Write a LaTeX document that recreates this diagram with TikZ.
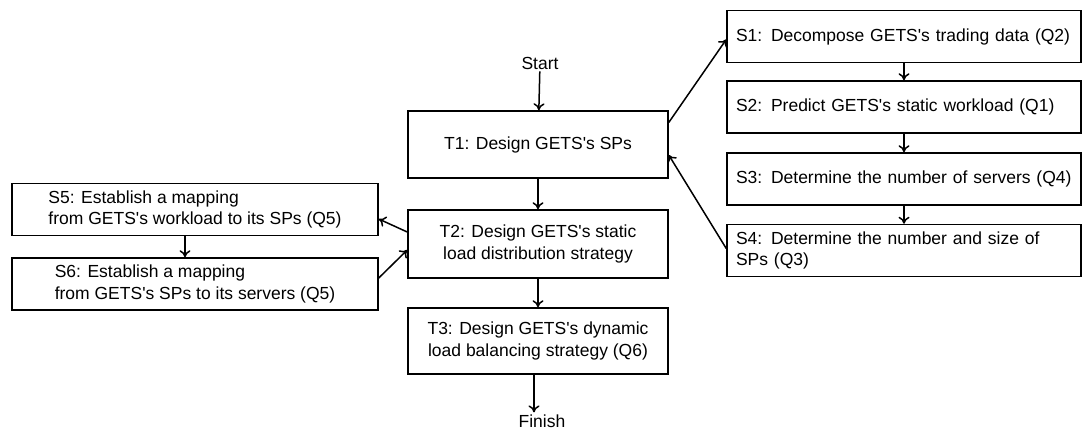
\documentclass[tikz,border=0pt]{standalone}
\usepackage{fontspec}
\setmainfont{Liberation Sans}[Ligatures=TeXOff]
\usetikzlibrary{calc}
\usetikzlibrary{arrows.meta}

\tikzset{
  stage/.style={draw, line width=1.5pt, minimum height=52pt, inner sep=4pt,
    font=\fontsize{17.5}{21.5}\selectfont},
  taskbox/.style={stage, minimum width=260pt, align=center},
  stepbox/.style={stage, minimum width=354pt, text width=336pt, align=left},
  mapbox/.style={stage, minimum width=366pt, align=left},
  flow/.style={line width=1.5pt, -{To[length=7pt,width=11pt]}},
  term/.style={font=\fontsize{17.5}{20}\selectfont, inner sep=2pt}
}

\begin{document}
\begin{tikzpicture}[x=1pt,y=-1pt]
\useasboundingbox (0,0) rectangle (1082,431);

% main tasks
\node[term] (start) at (540,63) {Start};
\node[taskbox, minimum height=67pt] (t1) at (538,144.5) {T1: Design GETS's SPs};
\node[taskbox, minimum height=68pt] (t2) at (538,244) {T2: Design GETS's static\\load distribution strategy};
\node[taskbox, minimum height=66pt] (t3) at (538,341) {T3: Design GETS's dynamic\\load balancing strategy (Q6)};
\node[term] (finish) at (542,421) {Finish};

% steps of T1
\node[stepbox] (s1) at (904,36.5) {S1: Decompose GETS's trading data (Q2)};
\node[stepbox] (s2) at (904,107) {S2: Predict GETS's static workload (Q1)};
\node[stepbox] (s3) at (904,179) {S3: Determine the number of servers (Q4)};
\node[stepbox] (s4) at (904,250.5) {S4: Determine the number and size of\\SPs (Q3)};

% steps of T2
\node[mapbox] (s5) at (195,209.5) {S5: Establish a mapping\\from GETS's workload to its SPs (Q5)};
\node[mapbox] (s6) at (195,284) {S6: Establish a mapping\\from GETS's SPs to its servers (Q5)};

% vertical flow
\draw[flow] (start) -- (t1);
\draw[flow] (t1) -- (t2);
\draw[flow] (t2) -- (t3);
\draw[flow] ([xshift=-4pt]t3.south) -- ([xshift=-4pt]t3.south |- finish.north);
\foreach \a/\b in {s1/s2, s2/s3, s3/s4}
\draw[flow] (\a) -- (\b);
\draw[flow] ([xshift=-10pt]s5.south) -- ([xshift=-10pt]s6.north);

% side branches
\draw[flow] ([yshift=22pt]t1.east) -- ([yshift=-3pt]s1.west);
\draw[flow] ([yshift=2pt]s4.west) -- ([yshift=-10.5pt]t1.east);
\draw[flow] ([yshift=12pt]t2.west) -- ([yshift=-9.5pt]s5.east);
\draw[flow] ([yshift=6pt]s6.east) -- ([yshift=-6pt]t2.west);

\end{tikzpicture}
\end{document}
